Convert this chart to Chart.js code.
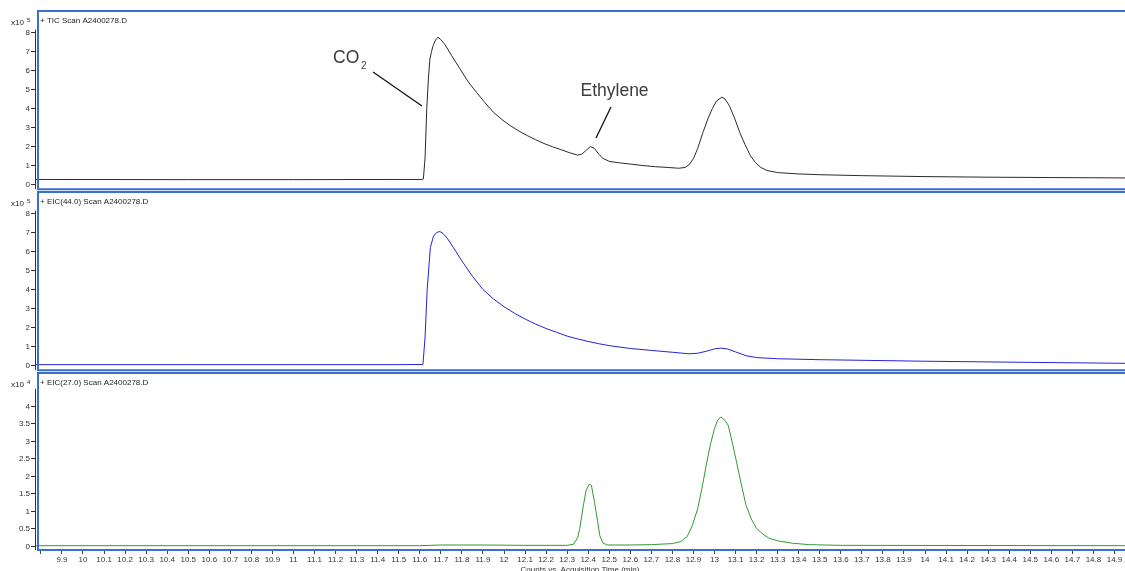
<!DOCTYPE html>
<html>
<head>
<meta charset="utf-8">
<script src="https://cdn.jsdelivr.net/npm/chart.js@4"></script>
<style>
html, body { margin: 0; padding: 0; background: #fff; overflow: hidden; }
#wrap { position: relative; width: 1125px; height: 571px; overflow: hidden; }
.panel { position: absolute; left: 0; width: 1125px; }
</style>
</head>
<body>
<div id="wrap">
    <div class="panel" style="top:0px;height:195px"><canvas id="tic"></canvas></div>
    <div class="panel" style="top:181px;height:195px"><canvas id="eic44"></canvas></div>
    <div class="panel" style="top:362px;height:213px"><canvas id="eic27"></canvas></div>
</div>
<script>
// retention time ticks (min), 9.8 has no label
const xTicks = [9.8, 9.9, 10, 10.1, 10.2, 10.3, 10.4, 10.5, 10.6, 10.7, 10.8, 10.9,
    11, 11.1, 11.2, 11.3, 11.4, 11.5, 11.6, 11.7, 11.8, 11.9,
    12, 12.1, 12.2, 12.3, 12.4, 12.5, 12.6, 12.7, 12.8, 12.9,
    13, 13.1, 13.2, 13.3, 13.4, 13.5, 13.6, 13.7, 13.8, 13.9,
    14, 14.1, 14.2, 14.3, 14.4, 14.5, 14.6, 14.7, 14.8, 14.9];
const yTicksE5 = [0, 1, 2, 3, 4, 5, 6, 7, 8];
const yTicksE4 = [0, 0.5, 1, 1.5, 2, 2.5, 3, 3.5, 4];

// TIC (x10^5 counts)
const ticTime = [9.77, 10.5, 11.0, 11.5, 11.61, 11.617, 11.625, 11.633, 11.641, 11.648, 11.656, 11.663, 11.675, 11.686, 11.7,
    11.72, 11.75, 11.79, 11.83, 11.87, 11.91, 11.95, 11.99, 12.03, 12.07, 12.11, 12.15, 12.19, 12.23, 12.27, 12.31, 12.35,
    12.37, 12.39, 12.41, 12.43, 12.45, 12.47, 12.5, 12.55, 12.6, 12.66, 12.72, 12.78, 12.83, 12.86, 12.88, 12.9, 12.92,
    12.945, 12.97, 12.99, 13.01, 13.035, 13.05, 13.07, 13.095, 13.12, 13.145, 13.17, 13.195, 13.22, 13.25, 13.3, 13.4,
    13.5, 13.7, 14.0, 14.3, 14.6, 14.95];
const ticValue = [0.27, 0.26, 0.26, 0.27, 0.27, 0.3, 1.4, 4.0, 5.6, 6.6, 7.0, 7.3, 7.6, 7.75, 7.62,
    7.35, 6.8, 6.1, 5.4, 4.84, 4.3, 3.8, 3.42, 3.1, 2.82, 2.58, 2.36, 2.16, 1.99, 1.84, 1.68, 1.55,
    1.6, 1.8, 2.0, 1.9, 1.6, 1.38, 1.22, 1.14, 1.08, 1.0, 0.94, 0.9, 0.86, 0.9, 1.05, 1.37, 1.9,
    2.74, 3.5, 4.0, 4.4, 4.6, 4.5, 4.16, 3.5, 2.74, 2.1, 1.53, 1.15, 0.9, 0.74, 0.63, 0.56,
    0.52, 0.47, 0.42, 0.39, 0.37, 0.35];

// EIC m/z 44 (x10^5 counts)
const eic44Time = [9.77, 10.5, 11.0, 11.5, 11.615, 11.625, 11.635, 11.65, 11.665, 11.68, 11.695, 11.71, 11.73, 11.76,
    11.8, 11.85, 11.9, 11.95, 12.0, 12.05, 12.1, 12.15, 12.2, 12.25, 12.3, 12.35, 12.4, 12.45, 12.5, 12.6, 12.7, 12.8,
    12.88, 12.92, 12.96, 13.0, 13.03, 13.06, 13.1, 13.15, 13.2, 13.3, 13.5, 14.0, 14.5, 14.95];
const eic44Value = [0.05, 0.05, 0.05, 0.05, 0.06, 1.5, 4.0, 6.2, 6.8, 7.0, 7.05, 6.95, 6.7, 6.2,
    5.5, 4.7, 4.0, 3.5, 3.1, 2.75, 2.45, 2.18, 1.95, 1.75, 1.55, 1.4, 1.27, 1.15, 1.05, 0.9, 0.8, 0.7,
    0.62, 0.65, 0.75, 0.88, 0.92, 0.88, 0.72, 0.52, 0.42, 0.36, 0.31, 0.23, 0.17, 0.12];

// EIC m/z 27 (x10^4 counts)
const eic27Time = [9.77, 11.6, 11.7, 11.9, 12.1, 12.3, 12.33, 12.35, 12.36, 12.375, 12.39, 12.405, 12.415, 12.43,
    12.445, 12.455, 12.47, 12.49, 12.6, 12.7, 12.8, 12.84, 12.87, 12.895, 12.92, 12.94, 12.96, 12.98, 13.0, 13.015,
    13.03, 13.05, 13.065, 13.085, 13.105, 13.13, 13.15, 13.175, 13.2, 13.23, 13.26, 13.3, 13.37, 13.45, 13.6, 14.95];
const eic27Value = [0.02, 0.02, 0.04, 0.04, 0.03, 0.03, 0.06, 0.25, 0.51, 1.1, 1.6, 1.78, 1.75, 1.26,
    0.7, 0.31, 0.1, 0.04, 0.04, 0.05, 0.08, 0.14, 0.28, 0.6, 1.08, 1.65, 2.3, 2.9, 3.37, 3.6,
    3.7, 3.6, 3.46, 2.95, 2.4, 1.7, 1.17, 0.78, 0.51, 0.35, 0.23, 0.16, 0.09, 0.05, 0.03, 0.02];

const FONT = "'Liberation Sans', Arial, sans-serif";
Chart.defaults.font.family = FONT;
Chart.defaults.color = '#333';

function toPoints(times, values) {
    let pts = [];
    for (let i = 0; i < times.length; i++) {
        pts.push({ x: times[i], y: values[i] });
    }
    return pts;
}

// frame, panel title, exponent and annotations
const panelDecor = {
    id: 'panelDecor',
    afterDatasetsDraw(chart, args, opts) {
        const ctx = chart.ctx;
        const a = chart.chartArea;
        const yScale = chart.scales.y;
        ctx.save();
        // black y axis line
        ctx.strokeStyle = '#333';
        ctx.lineWidth = 1;
        ctx.beginPath();
        ctx.moveTo(a.left + 0.5, yScale.getPixelForValue(opts.axisTop));
        ctx.lineTo(a.left + 0.5, a.bottom);
        ctx.stroke();
        // blue frame
        ctx.strokeStyle = '#3a6fd0';
        ctx.lineWidth = 2;
        ctx.beginPath();
        ctx.moveTo(a.right, a.top);
        ctx.lineTo(a.left + 3, a.top);
        ctx.lineTo(a.left + 3, a.bottom);
        ctx.lineTo(a.right, a.bottom);
        ctx.stroke();
        // title of the trace
        ctx.fillStyle = '#222';
        ctx.font = '8px ' + FONT;
        ctx.textAlign = 'left';
        ctx.textBaseline = 'alphabetic';
        ctx.fillText(opts.title, a.left + 5, a.top + 12);
        // x10^n
        ctx.fillText('x10', 11, a.top + 13.5);
        ctx.font = '6px ' + FONT;
        ctx.fillText(opts.exponent, 27, a.top + 10.5);
        // peak labels
        if (opts.notes) {
            ctx.fillStyle = '#3c3c3c';
            ctx.font = '17.5px ' + FONT;
            ctx.fillText('CO', 333, 62.5);
            ctx.font = '10px ' + FONT;
            ctx.fillText('2', 361, 68.5);
            ctx.font = '17.5px ' + FONT;
            ctx.fillText('Ethylene', 580.5, 96);
            ctx.strokeStyle = '#111';
            ctx.lineWidth = 1.3;
            ctx.beginPath();
            ctx.moveTo(373, 72);
            ctx.lineTo(422, 106);
            ctx.moveTo(611, 107);
            ctx.lineTo(596, 138);
            ctx.stroke();
        }
        ctx.restore();
    }
};

function createPanel(canvasId, times, values, color, yMin, yMax, yTicks, showX, decor) {
    let ctx = document.getElementById(canvasId).getContext('2d');
    return new Chart(ctx, {
        type: 'line',
        data: {
            datasets: [{
                data: toPoints(times, values),
                borderColor: color,
                borderWidth: 1,
                pointRadius: 0,
                tension: 0,
                fill: false,
            }]
        },
        options: {
            responsive: true,
            maintainAspectRatio: false,
            animation: false,
            events: [],
            layout: {
                autoPadding: false,
                padding: { top: 11, right: 0, bottom: showX ? 0 : 2, left: 0 }
            },
            plugins: {
                legend: { display: false },
                tooltip: { enabled: false },
                panelDecor: decor,
            },
            scales: {
                x: {
                    type: 'linear',
                    min: 9.772,
                    max: 14.95,
                    display: showX,
                    afterBuildTicks: (scale) => {
                        scale.ticks = xTicks.map(v => ({ value: v }));
                    },
                    afterFit: (scale) => { scale.height = showX ? 25 : 0; },
                    grid: { drawOnChartArea: false, tickLength: 4, color: '#444' },
                    border: { display: false },
                    ticks: {
                        autoSkip: false,
                        maxRotation: 0,
                        padding: 1,
                        font: { size: 8 },
                        callback: (v) => (Math.abs(v - 9.8) < 1e-6 ? '' : String(Number(v.toFixed(1)))),
                    },
                    title: {
                        display: true,
                        text: 'Counts vs. Acquisition Time (min)',
                        font: { size: 8 },
                        padding: 0,
                        color: '#333',
                    }
                },
                y: {
                    min: yMin,
                    max: yMax,
                    afterBuildTicks: (scale) => {
                        scale.ticks = yTicks.map(v => ({ value: v }));
                    },
                    afterFit: (scale) => { scale.width = 35; },
                    grid: { drawOnChartArea: false, tickLength: 4, color: '#333' },
                    border: { display: false },
                    ticks: {
                        padding: 1,
                        font: { size: 8 },
                        callback: (v) => String(v),
                    }
                }
            }
        },
        plugins: [panelDecor]
    });
}

createPanel('tic', ticTime, ticValue, '#2b2b2b', -0.242, 9.126, yTicksE5, false,
    { title: '+ TIC Scan A2400278.D', exponent: '5', axisTop: 8.15, notes: true });
createPanel('eic44', eic44Time, eic44Value, '#2323d8', -0.242, 9.126, yTicksE5, false,
    { title: '+ EIC(44.0) Scan A2400278.D', exponent: '5', axisTop: 8.15, notes: false });
createPanel('eic27', eic27Time, eic27Value, '#2f9a2f', -0.103, 4.954, yTicksE4, true,
    { title: '+ EIC(27.0) Scan A2400278.D', exponent: '4', axisTop: 4.5, notes: false });
</script>
</body>
</html>
